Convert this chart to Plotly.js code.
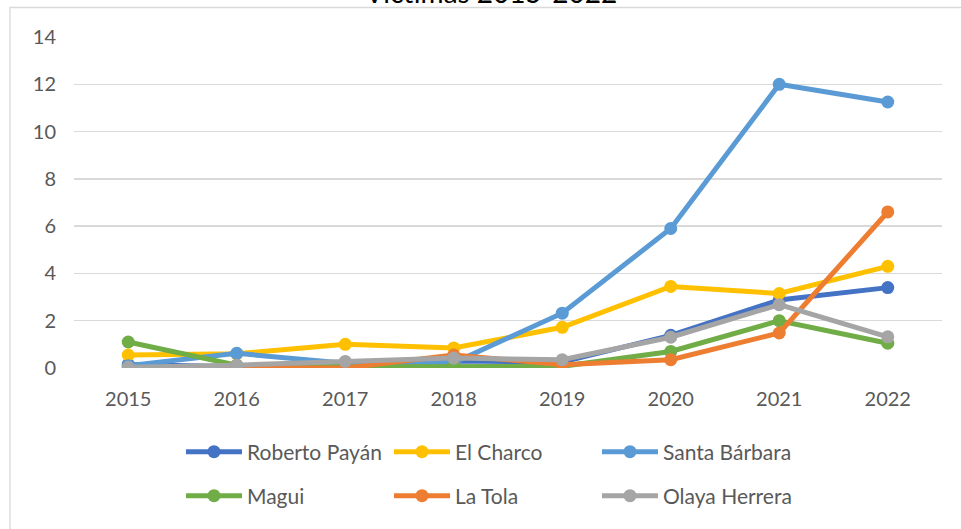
<!DOCTYPE html>
<html>
<head>
<meta charset="utf-8">
<script src="https://cdn.plot.ly/plotly-3.0.1.min.js"></script>
<style>
  html, body { margin: 0; padding: 0; background: #fff; }
  #chart { width: 961px; height: 529px; }
</style>
</head>
<body>
<div id="chart"></div>
<script>
const years = ['2015', '2016', '2017', '2018', '2019', '2020', '2021', '2022'];
const robertoPayan = [0.15, 0.05, 0.2, 0.3, 0.25, 1.38, 2.88, 3.4];
const elCharco = [0.55, 0.6, 1.0, 0.85, 1.72, 3.45, 3.15, 4.3];
const santaBarbara = [0.1, 0.62, 0.2, 0.22, 2.32, 5.9, 12.0, 11.25];
const magui = [1.1, 0.12, 0.05, 0.07, 0.07, 0.7, 2.0, 1.05];
const laTola = [0.0, 0.02, 0.0, 0.55, 0.14, 0.35, 1.48, 6.6];
const olayaHerrera = [0.03, 0.12, 0.28, 0.42, 0.35, 1.3, 2.68, 1.32];

const seriesNames = ['Roberto Payán', 'El Charco', 'Santa Bárbara', 'Magui', 'La Tola', 'Olaya Herrera'];
const seriesValues = [robertoPayan, elCharco, santaBarbara, magui, laTola, olayaHerrera];
const seriesColors = ['#4472C4', '#FFC000', '#5B9BD5', '#70AD47', '#ED7D31', '#A5A5A5'];
const chartTitle = 'Víctimas 2015-2022';

const FONT = 'Lato, "Open Sans", sans-serif';
const TXT = '#595959';

const traces = seriesNames.map((name, i) => ({
  type: 'scatter',
  mode: 'lines+markers',
  name: name,
  x: years,
  y: seriesValues[i],
  line: { color: seriesColors[i], width: 5 },
  marker: { color: seriesColors[i], size: 13 },
  legend: i < 3 ? 'legend' : 'legend2',
  hoverinfo: 'skip'
}));

const legendCommon = {
  orientation: 'h',
  xanchor: 'left',
  yanchor: 'middle',
  bgcolor: 'rgba(0,0,0,0)',
  font: { family: FONT, size: 21, color: TXT },
  itemwidth: 56,
  entrywidth: 137,
  entrywidthmode: 'pixels',
  itemclick: false,
  itemdoubleclick: false
};

const layout = {
  width: 961,
  height: 529,
  paper_bgcolor: '#ffffff',
  plot_bgcolor: '#ffffff',
  margin: { l: 74, r: 19, t: 37, b: 161, pad: 0 },
  title: {
    text: chartTitle,
    font: { family: FONT, size: 28, color: '#000000' },
    xref: 'container',
    yref: 'container',
    x: 0.511,
    xanchor: 'center',
    y: 1 - 3 / 529,
    yanchor: 'bottom'
  },
  xaxis: {
    type: 'category',
    range: [-0.5, 7.5],
    showgrid: false,
    showline: false,
    zeroline: false,
    ticks: '',
    ticklabelstandoff: 17,
    tickfont: { family: FONT, size: 20, color: TXT },
    fixedrange: true
  },
  yaxis: {
    range: [0, 14],
    dtick: 2,
    tick0: 0,
    showgrid: true,
    gridcolor: '#D9D9D9',
    gridwidth: 1.3,
    zeroline: false,
    showline: false,
    ticks: '',
    ticklabelstandoff: 17,
    tickfont: { family: FONT, size: 20, color: TXT },
    fixedrange: true
  },
  showlegend: true,
  legend: Object.assign({}, legendCommon, { x: (181 - 74) / 868, y: (368 - 452) / 331 }),
  legend2: Object.assign({}, legendCommon, { x: (181 - 74) / 868, y: (368 - 496) / 331 }),
  shapes: [{
    type: 'rect',
    xref: 'paper', yref: 'paper',
    x0: (10 - 74) / 868, x1: 1.2,
    y0: -1.0, y1: (368 - 7.5) / 331,
    line: { color: '#D9D9D9', width: 1.3 },
    fillcolor: 'rgba(0,0,0,0)',
    layer: 'below'
  }]
};

Plotly.newPlot('chart', traces, layout, { displayModeBar: false, staticPlot: true });
</script>
</body>
</html>
